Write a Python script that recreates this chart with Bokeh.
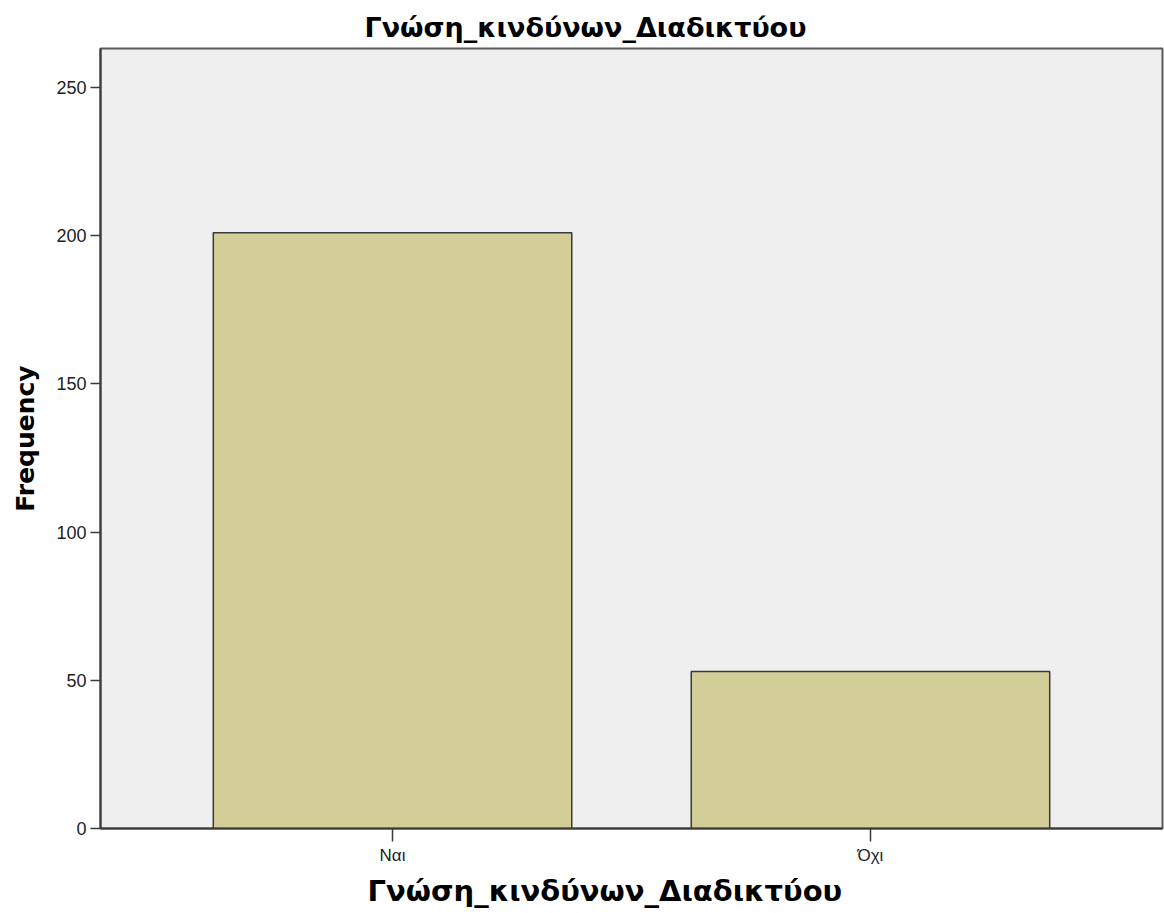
from bokeh.plotting import figure
from bokeh.models import Title, FixedTicker, FactorRange, Range1d
from bokeh.embed import file_html
from bokeh.resources import INLINE

categories = ["Ναι", "Όχι"]
frequency = [201, 53]
y_ticks = [0, 50, 100, 150, 200, 250]
title_text = "Γνώση_κινδύνων_Διαδικτύου"
y_label = "Frequency"

p = figure(x_range=FactorRange(*categories, range_padding=0.111),
           y_range=Range1d(0, 263.2),
           width=1164, height=913, output_backend="svg", toolbar_location=None,
           min_border_left=100, min_border_right=2, min_border_top=48, min_border_bottom=85)

p.vbar(x=categories, top=frequency, width=0.75, fill_color="#d3ce97",
       line_color="#3a3a3a", line_width=1.5)

p.background_fill_color = "#efefef"
p.border_fill_color = "white"
p.outline_line_color = "#5a5a5a"
p.outline_line_width = 2
p.xgrid.visible = False
p.ygrid.visible = False

p.title.text = title_text
p.title.align = "left"
p.title.offset = 264
p.title.text_font = "DejaVu Sans"
p.title.text_font_size = "27px"
p.title.text_font_style = "bold"
p.title.text_color = "black"
p.title.standoff = 12

xl = Title(text=title_text, align="left", offset=267, text_font="DejaVu Sans",
           text_font_size="29px", text_font_style="bold", text_color="black", standoff=9)
p.add_layout(xl, "below")

p.xaxis.axis_line_color = "#3a3a3a"
p.xaxis.axis_line_width = 2
p.xaxis.major_tick_in = 0
p.xaxis.major_tick_out = 13
p.xaxis.major_tick_line_color = "#3a3a3a"
p.xaxis.major_tick_line_width = 1.5
p.xaxis.major_label_text_font = "Liberation Sans"
p.xaxis.major_label_text_font_size = "17px"
p.xaxis.major_label_text_color = "#222222"
p.xaxis.major_label_standoff = 4

p.yaxis.ticker = FixedTicker(ticks=y_ticks)
p.yaxis.minor_tick_line_color = None
p.yaxis.axis_line_color = "#3a3a3a"
p.yaxis.axis_line_width = 2
p.yaxis.major_tick_in = 0
p.yaxis.major_tick_out = 10
p.yaxis.major_tick_line_color = "#3a3a3a"
p.yaxis.major_tick_line_width = 1.5
p.yaxis.major_label_text_font = "Liberation Sans"
p.yaxis.major_label_text_font_size = "18px"
p.yaxis.major_label_text_color = "#222222"
p.yaxis.major_label_standoff = 4
p.yaxis.axis_label = y_label
p.yaxis.axis_label_text_font = "DejaVu Sans"
p.yaxis.axis_label_text_font_size = "25px"
p.yaxis.axis_label_text_font_style = "bold"
p.yaxis.axis_label_text_color = "black"
p.yaxis.axis_label_standoff = 13

open("out.html", "w").write(file_html(p, INLINE))
